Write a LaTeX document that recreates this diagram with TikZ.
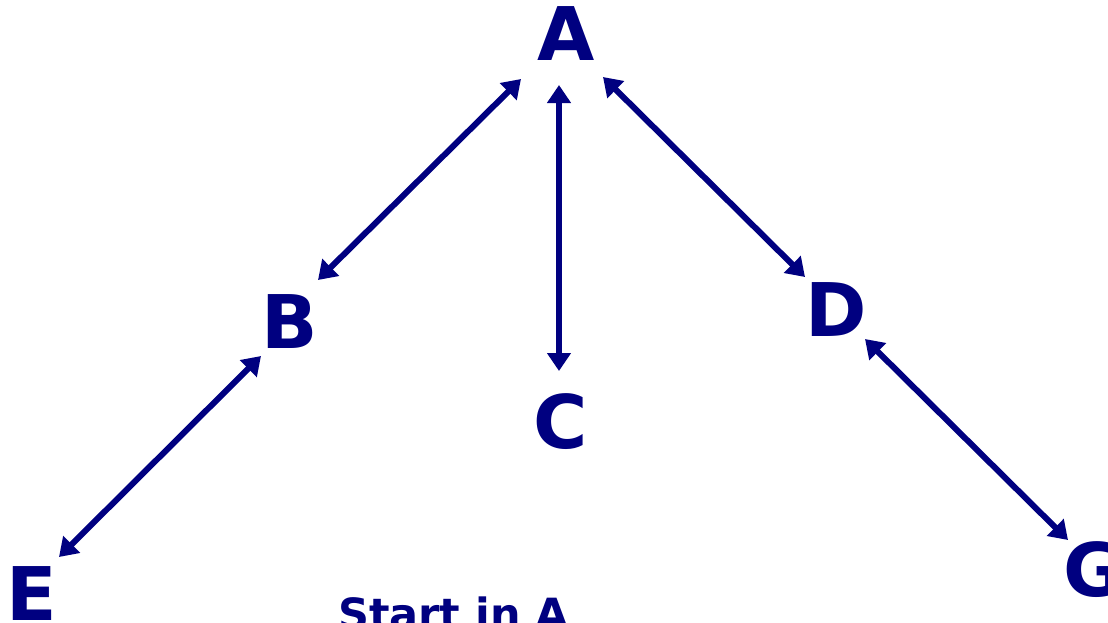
\documentclass[tikz,border=0pt]{standalone}
\usepackage{fontspec}
\setmainfont{DejaVu Sans}
\usetikzlibrary{arrows.meta}
\definecolor{navy}{RGB}{0,0,128}
\tikzset{
  lbl/.style={text=navy, inner sep=0pt, font=\bfseries\fontsize{74}{74}\selectfont},
  arr/.style={draw=navy, line width=6pt, {Triangle[length=18pt,width=23pt]}-{Triangle[length=18pt,width=23pt]}},
  note/.style={text=navy, inner sep=0pt, font=\bfseries\fontsize{43}{43}\selectfont}
}
\begin{document}
\begin{tikzpicture}[x=1pt,y=-1pt]
\useasboundingbox (0,0) rectangle (1108,622);
\node[lbl] (A) at (566,34) {A};
\node[lbl] (B) at (290,322) {B};
\node[lbl] (C) at (561,422) {C};
\node[lbl] (D) at (836,310) {D};
\node[lbl] (E) at (32,594) {E};
\node[lbl] (G) at (1094,570) {G};
\node[note, anchor=base west] (S) at (338,629) {Start in A};
\draw[arr] ([shift={(-45,45)}]A.center) -- ([shift={(28,-42)}]B.center);
\draw[arr] ([shift={(-7,51)}]A.center) -- ([shift={(-2,-51)}]C.center);
\draw[arr] ([shift={(37,43)}]A.center) -- ([shift={(-31,-33)}]D.center);
\draw[arr] ([shift={(-29,34)}]B.center) -- ([shift={(27,-37)}]E.center);
\draw[arr] ([shift={(29,29)}]D.center) -- ([shift={(-26,-30)}]G.center);
\end{tikzpicture}
\end{document}
